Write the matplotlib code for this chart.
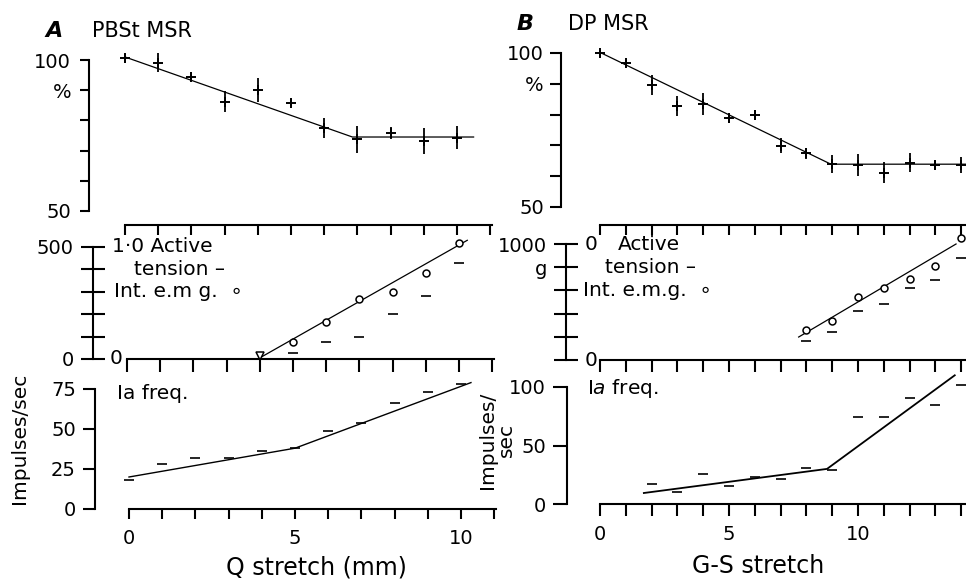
import matplotlib
matplotlib.use('Agg')
import matplotlib.pyplot as plt

plt.rcParams['font.family'] = ['DejaVu Sans']
plt.rcParams['mathtext.fontset'] = 'dejavusans'
plt.rcParams['font.size'] = 14

# ---------------- data: panel A (PBSt MSR, Q stretch in mm) ----------------
a_stretch = [0, 1, 2, 3, 4, 5, 6, 7, 8, 9, 10]
a_msr = [100.6, 99.1, 94.5, 86.2, 90.1, 85.9, 77.6, 73.7, 75.7, 73.2, 74.3]
a_msr_err = [1.5, 3.1, 1.5, 3.5, 4.1, 1.2, 3.3, 4.6, 2.0, 4.2, 3.9]
a_msr_fit_x = [0, 6.85, 10.5]
a_msr_fit_y = [101.0, 74.5, 74.5]

a_emg_x = [5, 6, 7, 8, 9, 10]
a_emg = [76, 165, 268, 299, 384, 518]
a_tension_x = [5, 6, 7, 8, 9, 10]
a_tension = [27, 76, 98, 201, 281, 429]
a_thresh_x = [4]
a_thresh_y = [13]
a_emg_fit_x = [4.0, 10.25]
a_emg_fit_y = [5, 530]

a_ia = [18, 28, 32, 32, 36, 38, 49, 54, 66, 73, 78]
a_ia_fit_x = [0, 5, 10.3]
a_ia_fit_y = [20, 38, 79]

# ---------------- data: panel B (DP MSR, G-S stretch) ----------------
b_stretch = [0, 1, 2, 3, 4, 5, 6, 7, 8, 9, 10, 11, 12, 13, 14]
b_msr = [99.9, 96.6, 89.6, 82.8, 83.4, 78.8, 79.9, 69.9, 67.4, 63.9, 63.6, 61.1, 64.4, 63.6, 63.6]
b_msr_err = [1.2, 1.0, 3.2, 3.1, 3.5, 1.5, 1.5, 2.5, 1.9, 3.0, 3.5, 3.4, 3.1, 1.2, 2.7]
b_msr_fit_x = [0, 8.95, 14.2]
b_msr_fit_y = [100.2, 63.9, 63.9]

b_emg_x = [8, 9, 10, 11, 12, 13, 14]
b_emg = [259, 336, 543, 621, 698, 810, 1050]
b_tension_x = [8, 9, 10, 11, 12, 13, 14]
b_tension = [164, 241, 422, 483, 621, 690, 879]
b_emg_fit_x = [7.7, 13.8]
b_emg_fit_y = [198, 1000]

b_ia_x = [2, 3, 4, 5, 6, 7, 8, 9, 10, 11, 12, 13, 14]
b_ia = [17, 10, 26, 15, 23, 21, 31, 29, 74, 74, 91, 85, 102]
b_ia_fit_x = [1.7, 8.8, 13.75]
b_ia_fit_y = [9.4, 30, 110]

# ---------------- layout helpers ----------------
W, H = 966, 581
PT = 0.72  # points per pixel at dpi 100
SPW = 1.5
TLS = 14   # tick label size

fig = plt.figure(figsize=(W / 100, H / 100), dpi=100)


def make_ax(l, t, r, b, x0, sx, ybase, pybase, sy):
    ax = fig.add_axes([l / W, 1 - b / H, (r - l) / W, (b - t) / H])
    ax.set_xlim((l - x0) / sx, (r - x0) / sx)
    ax.set_ylim(ybase - (b - pybase) / sy, ybase + (pybase - t) / sy)
    for s in ax.spines.values():
        s.set_linewidth(SPW)
        s.set_visible(False)
    ax.patch.set_alpha(0)
    return ax


def lab(ax, s, dx_px, y, size=14.5, **kw):
    ax.annotate(s, xy=(0, y), xycoords=('axes fraction', 'data'),
                xytext=(dx_px * PT, 0), textcoords='offset points',
                ha='left', va='center', fontsize=size, **kw)


def msr_panel(ax, x, y, err, fx, fy):
    ax.errorbar(x, y, yerr=err, fmt='none', ecolor='k', elinewidth=1.3, capsize=0)
    ax.plot(x, y, ls='none', marker='+', ms=7, mew=1.4, color='k')
    ax.plot(fx, fy, color='k', lw=0.9)


# ================= Panel A =================
axA1 = make_ax(89, 45, 500, 211, 125, 33.2, 50, 211, 3.02)
msr_panel(axA1, a_stretch, a_msr, a_msr_err, a_msr_fit_x, a_msr_fit_y)
axA1.spines['left'].set_visible(True)
axA1.spines['left'].set_bounds(50, 100)
axA1.spines['bottom'].set_visible(True)
axA1.spines['bottom'].set_position(('outward', 14 * PT))
axA1.spines['bottom'].set_bounds(0, 11.05)
axA1.set_xticks(range(12))
axA1.tick_params(axis='x', direction='out', length=10 * PT, width=SPW, labelbottom=False)
axA1.set_yticks([50, 60, 70, 80, 90, 100], ['50', '', '', '', '%', '100'])
axA1.tick_params(axis='y', direction='out', length=9 * PT, width=SPW, pad=9 * PT, labelsize=TLS)

axA2 = make_ax(93, 225, 500, 359, 127, 33.2, 0, 359, 0.224)
axA2.plot(a_emg_fit_x, a_emg_fit_y, color='k', lw=0.9)
axA2.plot(a_tension_x, a_tension, ls='none', marker='_', ms=7, mew=1.2, color='k')
axA2.plot(a_emg_x, a_emg, ls='none', marker='o', ms=5, mfc='white', mec='k', mew=1.1)
axA2.plot(a_thresh_x, a_thresh_y, ls='none', marker='v', ms=6, mfc='white', mec='k', mew=1.1)
axA2.spines['left'].set_visible(True)
axA2.spines['left'].set_bounds(0, 500)
axA2.spines['bottom'].set_visible(True)
axA2.spines['bottom'].set_bounds(0, 11.05)
axA2.set_xticks(range(12))
axA2.tick_params(axis='x', direction='out', length=13 * PT, width=SPW, labelbottom=False)
axA2.set_yticks([0, 100, 200, 300, 400, 500], ['0', '', '', '', '', '500'])
axA2.tick_params(axis='y', direction='inout', length=24 * PT, width=SPW, pad=7 * PT, labelsize=TLS)
lab(axA2, '1·0 Active', 19, 500)
lab(axA2, 'tension –', 41, 400)
lab(axA2, 'Int. e.m g.  ∘', 21, 300)
lab(axA2, '0', 17, 0)

axA3 = make_ax(95, 372, 500, 509, 129, 33.2, 0, 509, 1.6)
axA3.plot(a_ia_fit_x, a_ia_fit_y, color='k', lw=1.0)
axA3.plot(a_stretch, a_ia, ls='none', marker='_', ms=7, mew=1.2, color='k')
axA3.spines['left'].set_visible(True)
axA3.spines['left'].set_bounds(0, 75)
axA3.spines['bottom'].set_visible(True)
axA3.spines['bottom'].set_bounds(0, 11.05)
axA3.set_xticks(range(12), ['0', '', '', '', '', '5', '', '', '', '', '10', ''])
axA3.tick_params(axis='x', direction='out', length=10 * PT, width=SPW, pad=10 * PT, labelsize=TLS)
axA3.set_yticks([0, 25, 50, 75])
axA3.tick_params(axis='y', direction='out', length=12 * PT, width=SPW, pad=7 * PT, labelsize=TLS)
lab(axA3, 'Ia freq.', 22, 72)

# ================= Panel B =================
axB1 = make_ax(561, 38, 966, 207, 600, 25.8, 50, 207, 3.08)
msr_panel(axB1, b_stretch, b_msr, b_msr_err, b_msr_fit_x, b_msr_fit_y)
axB1.spines['left'].set_visible(True)
axB1.spines['left'].set_bounds(50, 100)
axB1.spines['bottom'].set_visible(True)
axB1.spines['bottom'].set_position(('outward', 18 * PT))
axB1.spines['bottom'].set_bounds(0, 14.15)
axB1.set_xticks(range(15))
axB1.tick_params(axis='x', direction='out', length=10 * PT, width=SPW, labelbottom=False)
axB1.set_yticks([50, 60, 70, 80, 90, 100], ['50', '', '', '', '%', '100'])
axB1.tick_params(axis='y', direction='out', length=11 * PT, width=SPW, pad=6 * PT, labelsize=TLS)

axB2 = make_ax(566, 225, 966, 360, 600, 25.8, 0, 360, 0.116)
axB2.plot(b_emg_fit_x, b_emg_fit_y, color='k', lw=0.9)
axB2.plot(b_tension_x, b_tension, ls='none', marker='_', ms=7, mew=1.2, color='k')
axB2.plot(b_emg_x, b_emg, ls='none', marker='o', ms=5, mfc='white', mec='k', mew=1.1, clip_on=False)
axB2.spines['left'].set_visible(True)
axB2.spines['left'].set_bounds(0, 1000)
axB2.spines['bottom'].set_visible(True)
axB2.spines['bottom'].set_bounds(0, 14.15)
axB2.set_xticks(range(15))
axB2.tick_params(axis='x', direction='out', length=12 * PT, width=SPW, labelbottom=False)
axB2.set_yticks([0, 200, 400, 600, 800, 1000], ['', '', '', '', 'g', '1000'])
axB2.tick_params(axis='y', direction='inout', length=24 * PT, width=SPW, pad=7 * PT, labelsize=TLS)
lab(axB2, '0', 19, 1000)
lab(axB2, 'Active', 52, 1000)
lab(axB2, 'tension –', 39, 800)
lab(axB2, 'Int. e.m.g.  ∘', 17, 600)
lab(axB2, '0', 19, 0)

axB3 = make_ax(567, 372, 966, 504, 600, 25.8, 0, 504, 1.17)
axB3.plot(b_ia_fit_x, b_ia_fit_y, color='k', lw=1.3)
axB3.plot(b_ia_x, b_ia, ls='none', marker='_', ms=7, mew=1.2, color='k', clip_on=False)
axB3.spines['left'].set_visible(True)
axB3.spines['left'].set_bounds(0, 100)
axB3.spines['bottom'].set_visible(True)
axB3.spines['bottom'].set_bounds(0, 14.15)
axB3.set_xticks(range(15), ['0', '', '', '', '', '5', '', '', '', '', '10', '', '', '', ''])
axB3.tick_params(axis='x', direction='out', length=12 * PT, width=SPW, pad=9 * PT, labelsize=TLS)
axB3.set_yticks([0, 50, 100])
axB3.tick_params(axis='y', direction='out', length=14 * PT, width=SPW, pad=7 * PT, labelsize=TLS)
lab(axB3, 'I$\\mathit{a}$ freq.', 20, 99)

# ================= figure texts =================
def ftext(px, py, s, **kw):
    fig.text(px / W, 1 - py / H, s, **kw)

ftext(54, 31, 'A', fontsize=16, style='italic', weight='bold', ha='center', va='center')
ftext(92, 31, 'PBSt MSR', fontsize=15, ha='left', va='center')
ftext(525, 24, 'B', fontsize=16, style='italic', weight='bold', ha='center', va='center')
ftext(568, 24, 'DP MSR', fontsize=15, ha='left', va='center')
ftext(316, 567, 'Q stretch (mm)', fontsize=17, ha='center', va='center')
ftext(758, 566, 'G-S stretch', fontsize=17, ha='center', va='center')
ftext(20, 438, 'Impulses/sec', fontsize=14.5, rotation=90, ha='center', va='center')
ftext(497, 440, 'Impulses/\nsec', fontsize=14.5, rotation=90, ha='center', va='center', linespacing=0.95)

fig.savefig('out.png', dpi=100)
